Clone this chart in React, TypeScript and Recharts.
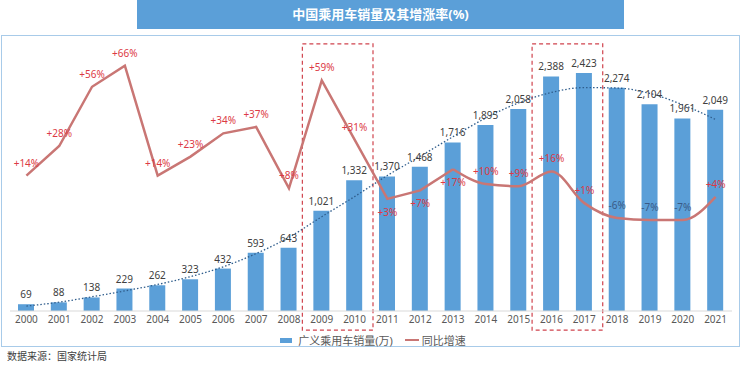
import {
    ComposedChart,
    Bar,
    Line,
    XAxis,
    YAxis,
    LabelList,
    Legend,
    ReferenceArea,
} from "recharts";

const years = [
    "2000", "2001", "2002", "2003", "2004", "2005", "2006", "2007", "2008", "2009", "2010",
    "2011", "2012", "2013", "2014", "2015", "2016", "2017", "2018", "2019", "2020", "2021",
];
// 广义乘用车销量(万)
const sales = [
    69, 88, 138, 229, 262, 323, 432, 593, 643, 1021, 1332,
    1370, 1468, 1716, 1895, 2058, 2388, 2423, 2274, 2104, 1961, 2049,
];
// 同比增速 (%)
const growth = [
    14, 28, 56, 66, 14, 23, 34, 37, 8, 59, 31,
    3, 7, 17, 10, 9, 16, 1, -6, -7, -7, 4,
];
// dotted trend line over the bars
const trend = [
    50, 90, 145, 205, 270, 350, 450, 585, 750, 960, 1165,
    1380, 1575, 1775, 1965, 2120, 2225, 2275, 2270, 2215, 2100, 1950,
];
const highlights = [
    ["2009", "2010"],
    ["2016", "2017"],
];

const SPLIT = 13; // growth line: straight segments up to 2013, smoothed after
const data = years.map((year, i) => ({
    year,
    sales: sales[i],
    trend: trend[i],
    growthA: i <= SPLIT ? growth[i] : null,
    growthB: i >= SPLIT ? growth[i] : null,
}));

const FONT = '"Noto Sans", "Noto Sans CJK SC", sans-serif';
const BLUE = "#5b9fd8";
const ROSE = "#c97674";
const belowLabels = ["2011", "2012", "2013"];

function fmt(v: number) {
    return v.toLocaleString("en-US");
}

function growthLabel(from: number, to: number) {
    return (props: any) => {
        const { x, y, value, index } = props;
        if (value == null || index < from || index > to) return null;
        const below = belowLabels.includes(years[index]);
        return (
            <text
                x={x}
                y={below ? y + 17 : y - 9}
                textAnchor="middle"
                fontSize={10}
                fontFamily={FONT}
                fill={value < 0 ? "#3a5a86" : "#dc3a45"}
            >
                {value > 0 ? "+" + value + "%" : value + "%"}
            </text>
        );
    };
}

function DashedBox(props: any) {
    const { x, y, width, height } = props;
    return (
        <rect
            x={x - 3}
            y={y}
            width={width + 5}
            height={height}
            fill="none"
            stroke="#d0434d"
            strokeWidth={1.2}
            strokeDasharray="4 3"
        />
    );
}

function LegendContent() {
    const txt = { fontSize: 11, color: "#595959", fontFamily: FONT };
    return (
        <div style={{ display: "flex", justifyContent: "center", alignItems: "center", paddingLeft: 2 }}>
            <span style={{ width: 12, height: 5, background: BLUE, display: "inline-block", marginRight: 6 }} />
            <span style={txt}>广义乘用车销量(万)</span>
            <span style={{ width: 14, height: 2.5, background: ROSE, display: "inline-block", marginLeft: 12, marginRight: 3 }} />
            <span style={txt}>同比增速</span>
        </div>
    );
}

export default function App() {
    return (
        <div
            style={{
                position: "absolute",
                left: 0,
                top: 0,
                width: 744,
                height: 366,
                background: "#fff",
                fontFamily: FONT,
            }}
        >
            <div
                style={{
                    position: "absolute",
                    left: 137,
                    top: 0,
                    width: 487,
                    height: 29,
                    background: BLUE,
                    color: "#fff",
                    fontWeight: "bold",
                    fontSize: 13,
                    lineHeight: "29px",
                    textAlign: "center",
                    fontFamily: FONT,
                }}
            >
                中国乘用车销量及其增涨率(%)
            </div>
            <div
                style={{
                    position: "absolute",
                    left: 1,
                    top: 35,
                    width: 737,
                    height: 310,
                    border: "1.5px solid #a8cbe9",
                }}
            />
            <div style={{ position: "absolute", left: 0, top: 0 }}>
                <ComposedChart
                    width={744}
                    height={366}
                    data={data}
                    margin={{ top: 36, right: 12, left: 10, bottom: 25 }}
                >
                    <XAxis
                        dataKey="year"
                        height={30}
                        tickLine={false}
                        tickSize={0}
                        tickMargin={5}
                        axisLine={{ stroke: "#d9d9d9" }}
                        tick={{ fontSize: 10, fill: "#595959", fontFamily: FONT }}
                        interval={0}
                    />
                    <YAxis yAxisId="v" domain={[0, 2800]} hide />
                    <YAxis yAxisId="g" orientation="right" domain={[-50, 80]} hide />
                    <Legend
                        layout="horizontal"
                        verticalAlign="middle"
                        align="center"
                        content={<LegendContent />}
                        wrapperStyle={{ top: 332, left: 0, width: 744 }}
                    />
                    {highlights.map(([a, b]) => (
                        <ReferenceArea
                            key={a}
                            yAxisId="v"
                            x1={a}
                            x2={b}
                            y1={-195}
                            y2={2720}
                            ifOverflow="visible"
                            shape={<DashedBox />}
                        />
                    ))}
                    <Bar
                        yAxisId="v"
                        dataKey="sales"
                        name="广义乘用车销量(万)"
                        fill={BLUE}
                        barSize={16}
                        isAnimationActive={false}
                    >
                        <LabelList
                            dataKey="sales"
                            position="top"
                            offset={6}
                            formatter={(v: any) => fmt(Number(v))}
                            style={{ fontSize: 10, fill: "#404040", fontFamily: FONT }}
                        />
                    </Bar>
                    <Line
                        yAxisId="v"
                        dataKey="trend"
                        type="monotone"
                        stroke="#2f5d8c"
                        strokeWidth={1.3}
                        strokeDasharray="1.5 2"
                        dot={false}
                        legendType="none"
                        isAnimationActive={false}
                    />
                    <Line
                        yAxisId="g"
                        dataKey="growthA"
                        name="同比增速"
                        type="linear"
                        stroke={ROSE}
                        strokeWidth={2.5}
                        dot={false}
                        isAnimationActive={false}
                    >
                        <LabelList dataKey="growthA" content={growthLabel(0, SPLIT)} />
                    </Line>
                    <Line
                        yAxisId="g"
                        dataKey="growthB"
                        type="monotone"
                        stroke={ROSE}
                        strokeWidth={2.5}
                        dot={false}
                        legendType="none"
                        isAnimationActive={false}
                    >
                        <LabelList dataKey="growthB" content={growthLabel(SPLIT + 1, years.length - 1)} />
                    </Line>
                </ComposedChart>
            </div>
            <div
                style={{
                    position: "absolute",
                    left: 7,
                    top: 348,
                    fontSize: 10,
                    color: "#404040",
                    fontFamily: FONT,
                }}
            >
                数据来源：国家统计局
            </div>
        </div>
    );
}
